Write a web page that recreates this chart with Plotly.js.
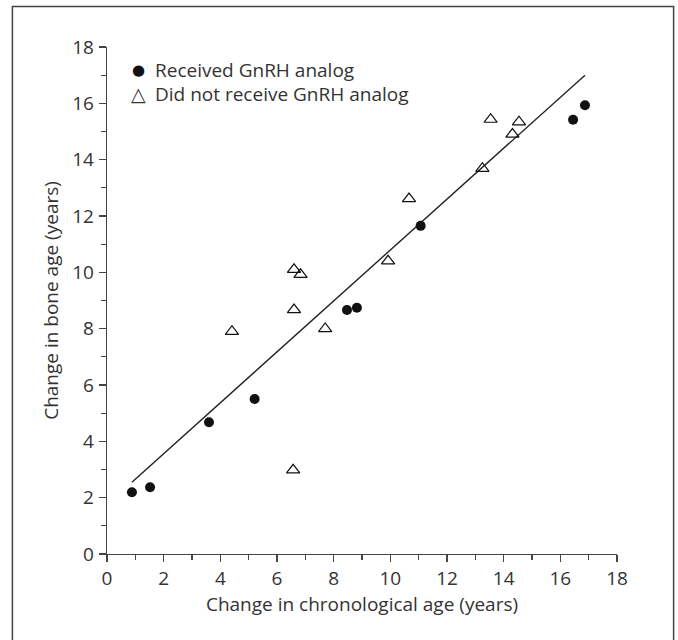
<!DOCTYPE html>
<html>
<head>
<meta charset="utf-8">
<script src="https://cdn.plot.ly/plotly-3.0.1.min.js"></script>
<style>
  html, body { margin: 0; padding: 0; background: #fff; }
  #chart { width: 678px; height: 640px; }
</style>
</head>
<body>
<div id="chart"></div>
<script>
// Received GnRH analog (filled circles)
const receivedX = [0.88, 1.52, 3.6, 5.21, 8.47, 8.82, 11.07, 16.45, 16.87];
const receivedY = [2.19, 2.37, 4.68, 5.5, 8.66, 8.74, 11.65, 15.42, 15.93];

// Did not receive GnRH analog (open triangles)
const notReceivedX = [4.41, 6.57, 6.6, 6.83, 6.6, 7.7, 9.92, 10.66, 13.25, 13.54, 14.31, 14.54];
const notReceivedY = [7.9, 2.98, 10.1, 9.92, 8.67, 8.0, 10.4, 12.61, 13.69, 15.43, 14.9, 15.34];

// Regression line end points
const fitX = [0.88, 16.87];
const fitY = [2.55, 17.0];

const tickVals = [0, 2, 4, 6, 8, 10, 12, 14, 16, 18];
const tickText = ['0', '2', '4', '6', '8', '10', '12', '14', '16', '18'];

const legendLabels = ['Received GnRH analog', 'Did not receive GnRH analog'];
const legendGlyphs = ['\u25CF', '\u25B3'];
const xTitle = 'Change in chronological age (years)';
const yTitle = 'Change in bone age (years)';

const FONT = '"Open Sans", "Noto Sans", sans-serif';
const INK = '#333';
const FS = 19;

const traces = [
  {
    x: fitX, y: fitY, type: 'scatter', mode: 'lines',
    line: {color: '#222', width: 1.4},
    showlegend: false, hoverinfo: 'skip'
  },
  {
    x: receivedX, y: receivedY, type: 'scatter', mode: 'markers',
    name: legendLabels[0],
    marker: {symbol: 'circle', size: 10, color: '#111', line: {width: 0}},
    showlegend: false
  },
  {
    x: notReceivedX, y: notReceivedY, type: 'scatter', mode: 'markers',
    name: legendLabels[1],
    marker: {symbol: 'triangle-up-open', size: 11.5, color: '#111', line: {width: 1.2, color: '#111'}},
    showlegend: false
  }
];

const axisCommon = {
  range: [0, 18],
  showgrid: false,
  zeroline: false,
  showline: true,
  linecolor: '#444',
  linewidth: 1.3,
  ticks: 'outside',
  ticklen: 7,
  tickwidth: 1.3,
  tickcolor: '#444',
  tickmode: 'array',
  tickvals: tickVals,
  ticktext: tickText,
  tickfont: {family: FONT, size: FS, color: INK},
  minor: {dtick: 1, ticks: 'outside', ticklen: 5, tickwidth: 1.2, tickcolor: '#444', showgrid: false},
  fixedrange: true
};

const legendTextX = 0.0906;
const legendGlyphX = 0.0622;
const legendRowY = [0.9555, 0.908];

const layout = {
  width: 678,
  height: 640,
  margin: {l: 107, r: 61, t: 47, b: 86},
  paper_bgcolor: '#fff',
  plot_bgcolor: '#fff',
  font: {family: FONT, color: INK, size: FS},
  showlegend: false,
  xaxis: Object.assign({}, axisCommon, {
    title: {text: xTitle, font: {family: FONT, size: FS, color: INK}, standoff: 4}
  }),
  yaxis: Object.assign({}, axisCommon, {
    ticklabelstandoff: 1,
    title: {text: yTitle, font: {family: FONT, size: FS, color: INK}, standoff: 8}
  }),
  annotations: [
    {xref: 'paper', yref: 'paper', x: legendGlyphX, y: legendRowY[0], xanchor: 'center', yanchor: 'middle',
     text: legendGlyphs[0], showarrow: false, font: {family: 'DejaVu Sans', size: 15, color: '#111'}},
    {xref: 'paper', yref: 'paper', x: legendGlyphX, y: legendRowY[1], xanchor: 'center', yanchor: 'middle',
     text: legendGlyphs[1], showarrow: false, font: {family: 'DejaVu Sans', size: 19, color: '#333'}},
    {xref: 'paper', yref: 'paper', x: legendTextX, y: legendRowY[0], xanchor: 'left', yanchor: 'middle',
     text: legendLabels[0], showarrow: false, font: {family: FONT, size: FS, color: INK}},
    {xref: 'paper', yref: 'paper', x: legendTextX, y: legendRowY[1], xanchor: 'left', yanchor: 'middle',
     text: legendLabels[1], showarrow: false, font: {family: FONT, size: FS, color: INK}}
  ],
  shapes: [
    {type: 'rect', xref: 'paper', yref: 'paper', x0: -0.1855, x1: 1.111, y0: -0.25, y1: 1.080,
     line: {color: '#444', width: 1.5}, fillcolor: 'rgba(0,0,0,0)', layer: 'below'}
  ]
};

Plotly.newPlot('chart', traces, layout, {staticPlot: true, displayModeBar: false});
</script>
</body>
</html>
